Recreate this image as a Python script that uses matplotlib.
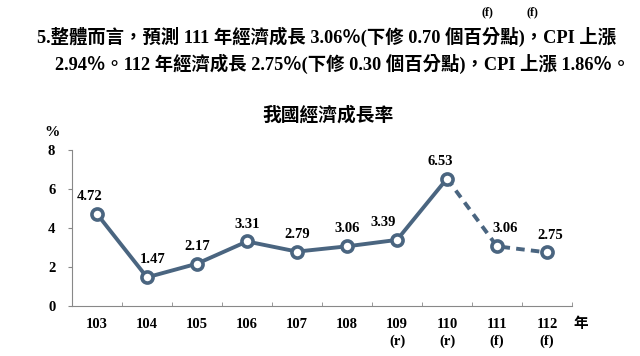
import numpy as np
import matplotlib.pyplot as plt

plt.rcParams['font.family'] = ['Liberation Serif', 'Noto Sans CJK TC']
plt.rcParams['font.weight'] = 'bold'

# 資料
years = ['103', '104', '105', '106', '107', '108', '109\n(r)', '110\n(r)', '111\n(f)', '112\n(f)']
growth = [4.72, 1.47, 2.17, 3.31, 2.79, 3.06, 3.39, 6.53, 3.06, 2.75]
label_dx = [-5, 4, 0, 0, 0, 0, -10, -5, 6, 2]  # 標籤水平偏移(px)
n_solid = 8  # 103~110 實線, 之後為預測虛線

line1 = '5.整體而言，預測 111 年經濟成長 3.06％(下修 0.70 個百分點)，CPI 上漲'
line2 = '2.94％。112 年經濟成長 2.75％(下修 0.30 個百分點)，CPI 上漲 1.86％。'
title = '我國經濟成長率'

c = '#4a6580'

fig = plt.figure(figsize=(6.4, 3.56), dpi=100)
ax = fig.add_axes([72/640, 1-306/356, 500/640, (306-150)/356])

X = np.arange(len(growth))
ax.plot(X[:n_solid], growth[:n_solid], color=c, lw=2.8, zorder=2)
ax.plot(X[n_solid-1:], growth[n_solid-1:], color=c, lw=2.8, ls=(0, (2.2, 1.6)), zorder=2)
ax.plot(X, growth, ls='none', marker='o', ms=8, mfc='white', mec=c, mew=2.6, zorder=3)

for i in range(len(growth)):
    ax.annotate('%.2f' % growth[i], (X[i], growth[i]), xytext=(label_dx[i], 12.5),
                textcoords='offset points', ha='center', va='center', fontsize=10.5)

ax.set_xlim(-0.5, len(growth)-0.5)
ax.set_ylim(0, 8)
ax.set_yticks([0, 2, 4, 6, 8])
ax.set_yticklabels(['0', '2', '4', '6', '8'], fontsize=10.5)
ax.set_xticks(X)
ax.set_xticklabels(years, fontsize=10.5, linespacing=1.3)
ax.set_xticks(np.arange(0.5, len(growth)-0.5+0.01, 1), minor=True)
ax.tick_params(axis='x', which='major', length=0, pad=9)
ax.tick_params(axis='x', which='minor', length=3, direction='in', color='#888888')
ax.tick_params(axis='y', length=3, direction='out', color='#888888', pad=9)
for s in ['top', 'right']:
    ax.spines[s].set_visible(False)
ax.spines['left'].set_color('#888888')
ax.spines['bottom'].set_color('#888888')

fig.text(52/640, 1-132/356, '%', ha='center', va='center', fontsize=11)
fig.text(573/640, 1-324/356, '年', ha='left', va='center', fontsize=10.5)
fig.text(328/640, 1-115/356, title, ha='center', va='center', fontsize=13.5)

fig.text(37/640, 1-37/356, line1, ha='left', va='center', fontsize=13.2)
fig.text(55/640, 1-64/356, line2, ha='left', va='center', fontsize=13.2)
fig.text(487/640, 1-12/356, '(f)', ha='center', va='center', fontsize=8.5)
fig.text(532/640, 1-12/356, '(f)', ha='center', va='center', fontsize=8.5)

fig.savefig('out.png', dpi=100)
